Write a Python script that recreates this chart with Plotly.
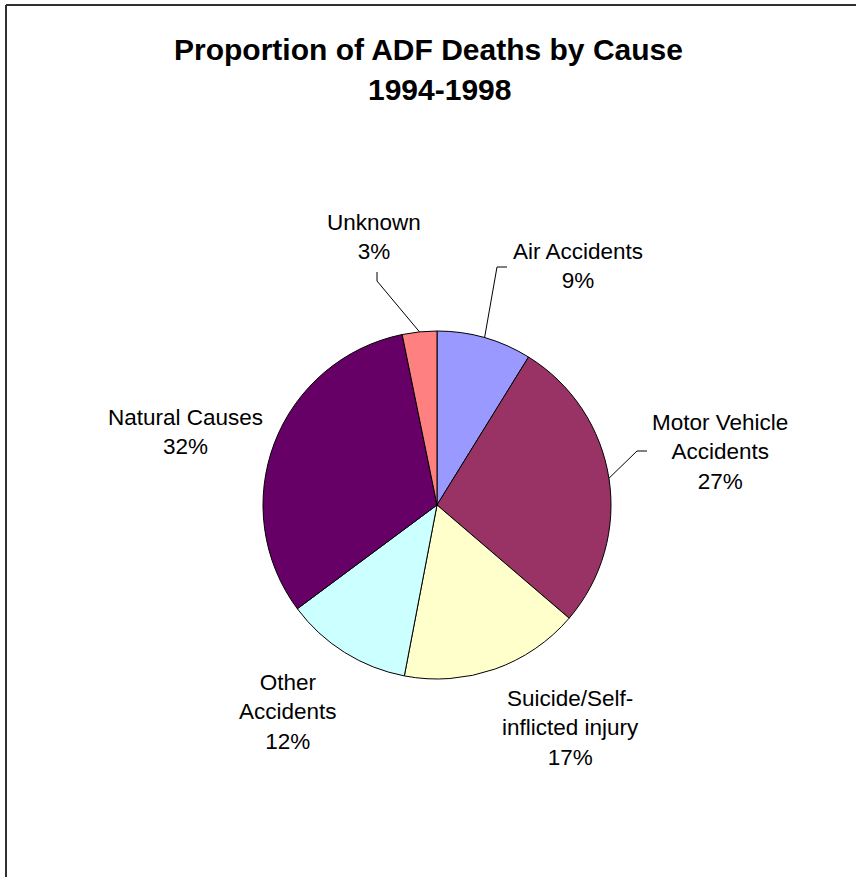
import math
import plotly.graph_objects as go

W, H = 856, 877

causes = ["Air Accidents", "Motor Vehicle Accidents", "Suicide/Self-inflicted injury",
          "Other Accidents", "Natural Causes", "Unknown"]
label_text = ["Air Accidents", "Motor Vehicle<br>Accidents", "Suicide/Self-<br>inflicted injury",
              "Other<br>Accidents", "Natural Causes", "Unknown"]
share = [8.8, 27.4, 16.7, 11.8, 31.9, 3.2]
colors = ["#9999FF", "#993366", "#FFFFCC", "#CCFFFF", "#660066", "#FF8080"]

# layout (pixels from top-left)
CX, CY, R = 437, 505, 174
label_pos = [(578, 266), (720, 452), (570, 728), (288, 712), (185, 432), (374, 237)]
# elbow points for leader lines (label side), None = no leader
elbows = [[(507, 267), (497, 267)], [(647, 451), (637, 451)], None, None, None,
          [(377, 272), (377, 281)]]


def px(x):
    return x / W


def py(y):
    return 1 - y / H


fig = go.Figure(go.Pie(
    labels=causes, values=share, sort=False, direction="clockwise", rotation=0,
    marker=dict(colors=colors, line=dict(color="black", width=1)),
    textinfo="none", hoverinfo="label+percent", showlegend=False,
    domain=dict(x=[px(CX - R), px(CX + R)], y=[py(CY + R), py(CY - R)]),
))

total = sum(share)
annotations = []
shapes = []
cum = 0.0
for name, txt, v, (lx, ly), el in zip(causes, label_text, share, label_pos, elbows):
    mid = (cum + v / 2) / total * 2 * math.pi
    cum += v
    pct = round(v / total * 100)
    annotations.append(dict(
        text=f"{txt}<br>{pct}%", x=px(lx), y=py(ly), xref="paper", yref="paper",
        xanchor="center", yanchor="middle", showarrow=False, align="center",
        font=dict(family="Liberation Sans, Arial", size=22.5, color="black"),
    ))
    if el:
        ex = CX + R * math.sin(mid)
        ey = CY - R * math.cos(mid)
        pts = el + [(ex, ey)]
        path = "M " + " L ".join(f"{px(x)},{py(y)}" for x, y in pts)
        shapes.append(dict(type="path", path=path, xref="paper", yref="paper",
                           line=dict(color="black", width=1)))

title_font = dict(family="Liberation Sans, Arial", size=30, color="black")
annotations.append(dict(text="<b>Proportion of ADF Deaths by Cause</b>", x=0.5, y=py(49),
                        xref="paper", yref="paper", xanchor="center", yanchor="middle",
                        showarrow=False, font=title_font))
annotations.append(dict(text="<b>1994-1998</b>", x=px(439), y=py(90),
                        xref="paper", yref="paper", xanchor="center", yanchor="middle",
                        showarrow=False, font=title_font))

# chart-area frame (top and left edges visible)
shapes.append(dict(type="line", xref="paper", yref="paper", x0=px(6), x1=1.05,
                   y0=py(5), y1=py(5), line=dict(color="#303030", width=2)))
shapes.append(dict(type="line", xref="paper", yref="paper", x0=px(6), x1=px(6),
                   y0=py(5), y1=-0.05, line=dict(color="#303030", width=2)))

fig.update_layout(
    width=W, height=H, margin=dict(l=0, r=0, t=0, b=0),
    paper_bgcolor="white", plot_bgcolor="white",
    annotations=annotations, shapes=shapes,
)

fig.write_html("out.html")
